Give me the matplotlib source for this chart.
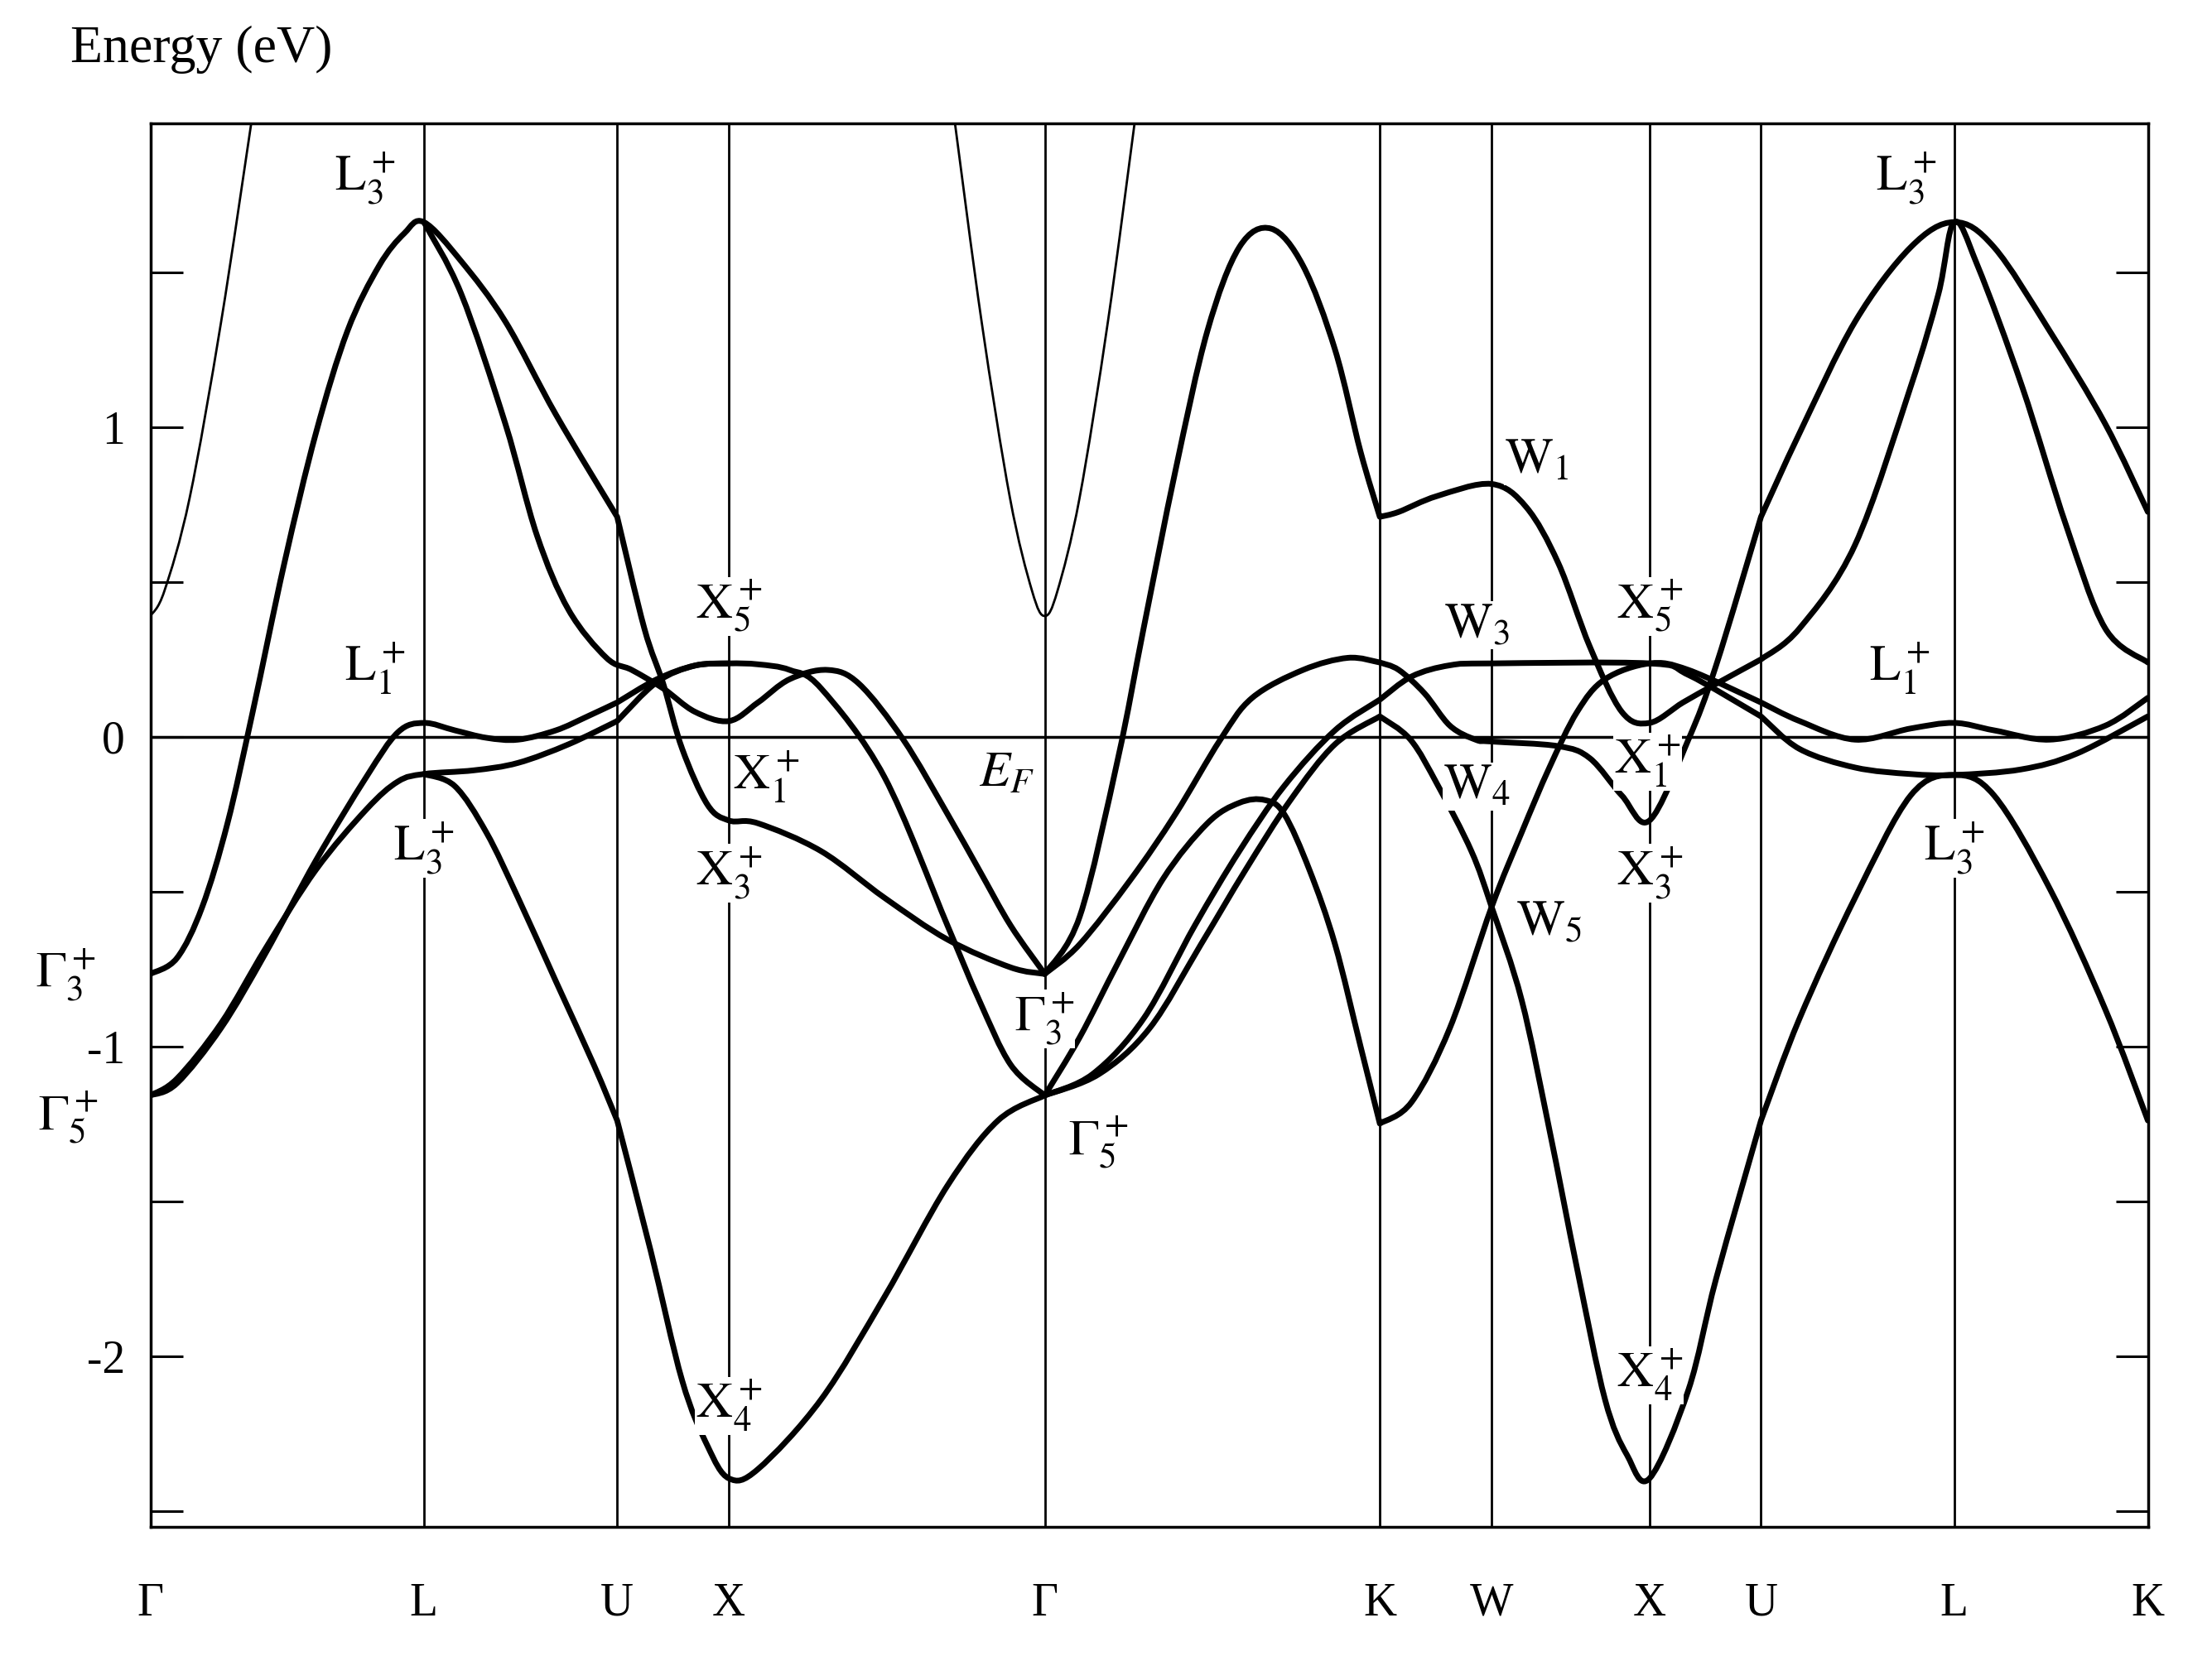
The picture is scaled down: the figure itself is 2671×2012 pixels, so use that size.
import matplotlib
matplotlib.use("Agg")
import numpy as np
import matplotlib.pyplot as plt
from matplotlib.path import Path
from matplotlib.patches import PathPatch
from matplotlib.ticker import MultipleLocator

plt.rcParams['font.family'] = ['Liberation Serif', 'DejaVu Serif']
plt.rcParams['mathtext.fontset'] = 'stix'

# high-symmetry points (path length in units of 2*pi/a)
kpt_pos = [0.0, 0.866, 1.478, 1.832, 2.832, 3.893, 4.247, 4.747, 5.100, 5.712, 6.325]
kpt_names = ['Γ', 'L', 'U', 'X', 'Γ', 'K', 'W', 'X', 'U', 'L', 'K']
kink_pos = [1.478, 3.893, 5.100]  # bands have corners at U and K

# thick bands: (k, E in eV)
band_a_k = [0, .084, .164, .244, .324, .424, .524, .624, .724, .804, .866, .984, 1.124, 1.284, 1.478,
            1.564, 1.624, 1.684, 1.764, 1.832, 1.924, 2.124, 2.324, 2.524, 2.724, 2.832]
band_a_e = [-.765, -.714, -.549, -.279, .081, .56, .98, 1.31, 1.52, 1.625, 1.661, 1.535, 1.34, 1.04, .71,
            .35, .171, -.039, -.219, -.27, -.279, -.369, -.519, -.654, -.744, -.765]

band_b_k = [.866, .984, 1.124, 1.224, 1.324, 1.444, 1.524, 1.624, 1.724, 1.832, 1.924, 2.024, 2.144,
            2.244, 2.384, 2.524, 2.624, 2.724, 2.832]
band_b_e = [1.661, 1.43, 1.01, .65, .41, .255, .216, .156, .081, .051, .111, .186, .216,
            .171, -.009, -.249, -.429, -.609, -.765]

band_c_k = [0, .084, .224, .364, .524, .684, .784, .866, .964, 1.064, 1.164, 1.284, 1.384, 1.478, 1.604,
            1.724, 1.832, 1.924, 2.024, 2.124, 2.324, 2.524, 2.624, 2.724, 2.832]
band_c_e = [-1.157, -1.118, -.939, -.699, -.399, -.129, .015, .045, .021, -.003, -.009, .021, .066, .111, .186,
            .23, .237, .234, .216, .156, -.129, -.609, -.849, -1.058, -1.157]

band_d_k = [0, .084, .224, .364, .524, .684, .784, .866, 1.024, 1.164, 1.324, 1.478, 1.604, 1.724, 1.832]
band_d_e = [-1.157, -1.103, -.924, -.684, -.429, -.234, -.144, -.12, -.108, -.084, -.024, .051, .177, .23, .237]

band_e_k = [.866, .964, 1.064, 1.164, 1.284, 1.404, 1.478, 1.584, 1.684, 1.764, 1.832, 1.924, 2.124,
            2.324, 2.524, 2.684, 2.832]
band_e_e = [-.12, -.159, -.309, -.519, -.789, -1.058, -1.238, -1.658, -2.078, -2.288, -2.393, -2.363, -2.138,
            -1.808, -1.448, -1.238, -1.157]

band_f_k = [2.832, 2.943, 3.064, 3.145, 3.246, 3.347, 3.448, 3.549, 3.65, 3.751, 3.832, 3.893, 3.953, 4.074,
            4.247, 4.357, 4.458, 4.558, 4.659, 4.747, 4.853, 4.958, 5.100, 5.222, 5.398, 5.574, 5.662, 5.712,
            5.786, 5.927, 6.067, 6.19, 6.325]
band_f_e = [-.765, -.579, -.069, .35, .86, 1.31, 1.58, 1.64, 1.52, 1.25, .92, .71, .726, .777,
            .816, .741, .561, .291, .081, .045, .111, .171, .25, .35, .62, 1.13, 1.43, 1.661,
            1.52, 1.13, .68, .35, .24]

band_g_k = [2.832, 2.943, 3.105, 3.246, 3.388, 3.489, 3.65, 3.792, 3.893, 3.953, 4.034, 4.115, 4.196, 4.247,
            4.458, 4.558, 4.659, 4.747, 4.87, 4.958, 5.100, 5.222, 5.398, 5.574, 5.712, 5.838, 6.014, 6.19, 6.325]
band_g_e = [-.765, -.669, -.459, -.249, -.009, .126, .216, .255, .24, .216, .141, .036, -.009, -.015,
            -.03, -.069, -.189, -.27, -.009, .231, .71, .98, 1.34, 1.58, 1.661, 1.58, 1.31, 1.01, .726]

band_h_k = [2.832, 2.943, 3.064, 3.206, 3.347, 3.448, 3.529, 3.59, 3.67, 3.751, 3.832, 3.893, 3.994, 4.115,
            4.247, 4.342, 4.43, 4.518, 4.606, 4.747, 4.87, 5.100, 5.222, 5.398, 5.574, 5.712, 5.838, 6.014,
            6.19, 6.325]
band_h_e = [-1.157, -.969, -.729, -.459, -.279, -.213, -.204, -.249, -.429, -.669, -.999, -1.248, -1.178, -.939,
            -.549, -.309, -.099, .081, .186, .237, .216, .111, .051, -.009, .027, .045, .021, -.009,
            .036, .126]

band_i_k = [2.832, 2.984, 3.145, 3.307, 3.448, 3.59, 3.751, 3.893, 3.994, 4.115, 4.247, 4.747, 4.87, 5.100,
            5.222, 5.398, 5.574, 5.712, 5.924, 6.1, 6.325]
band_i_e = [-1.157, -1.088, -.909, -.609, -.369, -.159, .021, .12, .195, .231, .237, .237, .2, .066,
            -.039, -.099, -.12, -.123, -.105, -.054, .066]

band_j_k = [2.832, 3.004, 3.165, 3.327, 3.468, 3.61, 3.751, 3.893, 3.99, 4.078, 4.183, 4.247, 4.342, 4.43,
            4.518, 4.606, 4.676, 4.747, 4.87, 4.958, 5.100, 5.222, 5.398, 5.574, 5.712, 5.838, 6.014, 6.19, 6.325]
band_j_e = [-1.157, -1.088, -.939, -.669, -.429, -.204, -.024, .066, -.009, -.159, -.369, -.549, -.849, -1.268,
            -1.718, -2.138, -2.318, -2.393, -2.108, -1.748, -1.238, -.909, -.519, -.189, -.123, -.189, -.489,
            -.879, -1.238]

thick_bands = [(band_a_k, band_a_e), (band_b_k, band_b_e), (band_c_k, band_c_e), (band_d_k, band_d_e),
               (band_e_k, band_e_e), (band_f_k, band_f_e), (band_g_k, band_g_e), (band_h_k, band_h_e),
               (band_i_k, band_i_e), (band_j_k, band_j_e)]

# thin free-electron-like band near Gamma
thin1_k = [0, .044, .124, .224, .32]
thin1_e = [.39, .47, .77, 1.34, 1.985]
thin2_k = [2.547, 2.632, 2.722, 2.792, 2.832, 2.872, 2.942, 3.032, 3.117]
thin2_e = [1.985, 1.34, .77, .47, .39, .47, .77, 1.34, 1.985]

# point labels: (text, k, E)
labels = [
    (r'$\mathrm{L}_3^+$', 0.68, 1.80), (r'$\mathrm{L}_1^+$', 0.71, 0.22), (r'$\mathrm{L}_3^+$', 0.866, -0.36),
    (r'$\mathrm{X}_5^+$', 1.832, 0.42), (r'$\mathrm{X}_1^+$', 1.95, -0.13), (r'$\mathrm{X}_3^+$', 1.832, -0.44),
    (r'$\mathrm{X}_4^+$', 1.832, -2.16), (r'$E_F$', 2.71, -0.12), (r'$\Gamma_3^+$', 2.83, -0.91),
    (r'$\Gamma_5^+$', 3.0, -1.31), (r'$\Gamma_3^+$', -0.27, -0.77), (r'$\Gamma_5^+$', -0.26, -1.23),
    (r'$\mathrm{W}_1$', 4.39, 0.89), (r'$\mathrm{W}_3$', 4.2, 0.36), (r'$\mathrm{W}_4$', 4.2, -0.16),
    (r'$\mathrm{W}_5$', 4.43, -0.60), (r'$\mathrm{X}_5^+$', 4.747, 0.42), (r'$\mathrm{X}_1^+$', 4.74, -0.08),
    (r'$\mathrm{X}_3^+$', 4.747, -0.44), (r'$\mathrm{X}_4^+$', 4.747, -2.06),
    (r'$\mathrm{L}_3^+$', 5.56, 1.80), (r'$\mathrm{L}_1^+$', 5.54, 0.22), (r'$\mathrm{L}_3^+$', 5.712, -0.36),
]


def smooth_path(ks, es):
    # Catmull-Rom style bezier through the read points, with corners at U and K
    pts = np.column_stack([ks, es])
    verts, codes = [tuple(pts[0])], [Path.MOVETO]
    n = len(pts)
    breaks = set(round(v, 3) for v in kink_pos)
    for i in range(n - 1):
        p0, p1 = pts[i], pts[i + 1]
        pm = pts[i - 1] if (i > 0 and round(p0[0], 3) not in breaks) else p0
        pp = pts[i + 2] if (i + 2 < n and round(p1[0], 3) not in breaks) else p1
        c1 = p0 + (p1 - pm) / 6.0
        c2 = p1 - (pp - p0) / 6.0
        verts += [tuple(c1), tuple(c2), tuple(p1)]
        codes += [Path.CURVE4] * 3
    return Path(verts, codes)


fig = plt.figure(figsize=(26.71, 20.12), dpi=100)
ax = fig.add_axes([0.068, 0.0834, 0.903, 0.8426])

for kk in kpt_pos:
    ax.axvline(kk, color='black', lw=2.0, zorder=1)
ax.axhline(0, color='black', lw=2.5, zorder=1)

for bk, be in thick_bands:
    ax.add_patch(PathPatch(smooth_path(bk, be), fill=False, edgecolor='black', lw=5.0,
                           capstyle='round', joinstyle='round', zorder=3))
for bk, be in [(thin1_k, thin1_e), (thin2_k, thin2_e)]:
    ax.add_patch(PathPatch(smooth_path(bk, be), fill=False, edgecolor='black', lw=2.0, zorder=3))

for txt, kx, ey in labels:
    ax.text(kx, ey, txt, fontsize=44, ha='center', va='center', zorder=5, clip_on=False,
            bbox=dict(facecolor='white', edgecolor='none', pad=1))

ax.set_xlim(0, 6.325)
ax.set_ylim(-2.55, 1.98)
ax.set_xticks(kpt_pos)
ax.set_xticklabels(kpt_names, fontsize=40)
ax.tick_params(axis='x', length=0, pad=48)
ax.yaxis.set_minor_locator(MultipleLocator(0.5))
ax.set_yticks([-2, -1, 0, 1])
ax.set_yticklabels(['-2', '-1', '0', '1'], fontsize=40)
ax.tick_params(axis='y', which='both', direction='in', length=28, width=2.2, right=True, pad=22)
for s in ax.spines.values():
    s.set_linewidth(2.5)

fig.text(0.032, 0.97, 'Energy (eV)', fontsize=46, ha='left', va='center')

fig.savefig('out.png', dpi=100)
